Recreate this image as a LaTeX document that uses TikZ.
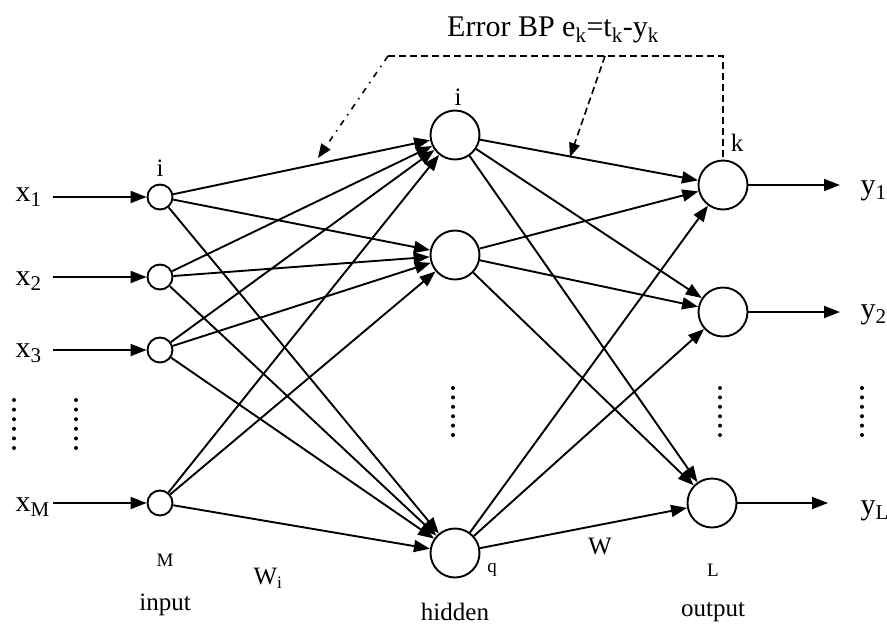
\documentclass[tikz,border=0pt]{standalone}
\usepackage{fontspec}
\setmainfont{Liberation Serif}
\usetikzlibrary{arrows.meta}
\begin{document}
\begin{tikzpicture}[x=1pt,y=-1pt,
  neu/.style={circle,draw,line width=1.9pt,minimum size=25pt,inner sep=0pt},
  hid/.style={circle,draw,line width=1.9pt,minimum size=49pt,inner sep=0pt},
  conn/.style={line width=1.9pt,-{Triangle[length=16pt,width=12pt]}},
  outarr/.style={line width=1.9pt,-{Triangle[length=16pt,width=12pt]}},
  errline/.style={line width=1.6pt,dash pattern=on 7pt off 4pt},
  dashdotline/.style={line width=1.6pt,dash pattern=on 6pt off 6pt on 1.5pt off 6pt},
  errtip/.style={-{Triangle[length=14pt,width=11pt]}},
  big/.style={font=\fontsize{30}{32}\selectfont},
  mid/.style={font=\fontsize{25}{27}\selectfont},
  small/.style={font=\fontsize{19}{21}\selectfont}]
\useasboundingbox (0,0) rectangle (887,630);
% input nodes
\node[neu] (in1) at (160,197) {};
\node[neu] (in2) at (160,277) {};
\node[neu] (in3) at (160,350) {};
\node[neu] (inM) at (160,503) {};
% hidden nodes
\node[hid] (h1) at (455,135) {};
\node[hid] (h2) at (455,255) {};
\node[hid] (hq) at (455,553) {};
% output nodes
\node[hid] (o1) at (723,185) {};
\node[hid] (o2) at (723,312) {};
\node[hid] (oL) at (712,503) {};
% input labels
\node[big,anchor=west] (lx1) at (12,197) {x\textsubscript{1}};
\node[big,anchor=west] (lx2) at (12,281) {x\textsubscript{2}};
\node[big,anchor=west] (lx3) at (12,353) {x\textsubscript{3}};
\node[big,anchor=west] (lxM) at (12,507) {x\textsubscript{M}};
\coordinate (s1) at (53,197);
\coordinate (s2) at (53,277);
\coordinate (s3) at (53,350);
\coordinate (sM) at (53,503);
\draw[conn] (s1) -- (in1);
\draw[conn] (s2) -- (in2);
\draw[conn] (s3) -- (in3);
\draw[conn] (sM) -- (inM);
% input to hidden
\foreach \a in {in1,in2,in3,inM}{
  \foreach \b in {h1,h2,hq}{
    \draw[conn] (\a) -- (\b);
  }
}
% hidden to output
\foreach \a in {h1,h2,hq}{
  \foreach \b in {o1,o2,oL}{
    \draw[conn] (\a) -- (\b);
  }
}
% outputs
\coordinate (e1) at (840,185);
\coordinate (e2) at (840,312);
\coordinate (eL) at (828,503);
\draw[outarr] (o1) -- (e1);
\draw[outarr] (o2) -- (e2);
\draw[outarr] (oL) -- (eL);
\node[big,anchor=west] (ly1) at (857,191) {y\textsubscript{1}};
\node[big,anchor=west] (ly2) at (857,315) {y\textsubscript{2}};
\node[big,anchor=west] (lyL) at (857,511) {y\textsubscript{L}};
% dots
\foreach \xx in {14,76}{
  \foreach \k in {0,...,5}{\fill (\xx,400+9.6*\k) circle (2pt);}
}
\foreach \k in {0,...,5}{\fill (453,388+9.4*\k) circle (2pt);}
\foreach \xx in {720,862}{
  \foreach \k in {0,...,5}{\fill (\xx,388+9.4*\k) circle (2pt);}
}
% node labels
\node[mid] (li) at (160,168) {i};
\node[mid] (lhi) at (458,97) {i};
\node[mid] (lk) at (737,143) {k};
\node[small] (lM) at (165,560) {M};
\node[small] (lq) at (492,570) {q};
\node[small] (lL) at (713,570) {L};
\node[mid] (lin) at (165,605) {input};
\node[mid] (lhid) at (455,612) {hidden};
\node[mid] (lout) at (713,612) {output};
\node[mid] (lWi) at (268,578) {W\textsubscript{i}};
\node[mid] (lW) at (600,546) {W};
% error
\node[big] (err) at (553,30) {Error BP e\textsubscript{k}=t\textsubscript{k}-y\textsubscript{k}};
\coordinate (tL) at (388,56);
\coordinate (tM) at (605,56);
\coordinate (tR) at (723,56);
\coordinate (a1) at (318,158);
\coordinate (a2) at (570,157);
\draw[errline] (tL) -- (tR) -- (o1.north);
\draw[dashdotline,errtip] (tL) -- (a1);
\draw[errline,errtip] (tM) -- (a2);
\end{tikzpicture}
\end{document}
